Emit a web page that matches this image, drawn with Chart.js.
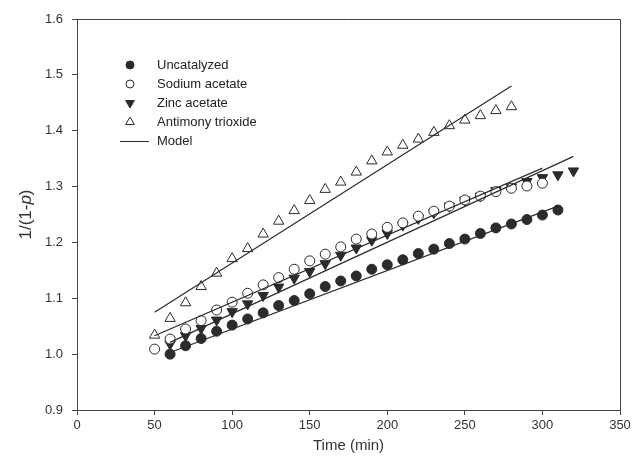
<!DOCTYPE html>
<html>
<head>
<meta charset="utf-8">
<script src="https://cdn.jsdelivr.net/npm/chart.js@4/dist/chart.umd.min.js"></script>
<style>
  body { margin: 0; background: #fff; }
</style>
</head>
<body>
<canvas id="chart" width="636" height="467"></canvas>
<script>
const uncatTime = [60, 70, 80, 90, 100, 110, 120, 130, 140, 150, 160, 170, 180, 190, 200, 210, 220, 230, 240, 250, 260, 270, 280, 290, 300, 310];
const uncatValues = [1.000, 1.015, 1.028, 1.041, 1.052, 1.063, 1.074, 1.087, 1.096, 1.108, 1.121, 1.131, 1.140, 1.152, 1.160, 1.169, 1.180, 1.188, 1.198, 1.206, 1.216, 1.226, 1.233, 1.241, 1.249, 1.258];

const sodiumTime = [50, 60, 70, 80, 90, 100, 110, 120, 130, 140, 150, 160, 170, 180, 190, 200, 210, 220, 230, 240, 250, 260, 270, 280, 290, 300];
const sodiumValues = [1.009, 1.027, 1.045, 1.060, 1.079, 1.093, 1.109, 1.124, 1.137, 1.152, 1.167, 1.179, 1.192, 1.206, 1.215, 1.227, 1.235, 1.247, 1.256, 1.265, 1.276, 1.283, 1.291, 1.297, 1.301, 1.306];

const zincTime = [60, 70, 80, 90, 100, 110, 120, 130, 140, 150, 160, 170, 180, 190, 200, 210, 220, 230, 240, 250, 260, 270, 280, 290, 300, 310, 320];
const zincValues = [1.018, 1.033, 1.046, 1.061, 1.076, 1.090, 1.105, 1.120, 1.136, 1.148, 1.162, 1.177, 1.190, 1.204, 1.216, 1.231, 1.243, 1.253, 1.265, 1.276, 1.283, 1.293, 1.299, 1.309, 1.316, 1.321, 1.328];

const antimonyTime = [50, 60, 70, 80, 90, 100, 110, 120, 130, 140, 150, 160, 170, 180, 190, 200, 210, 220, 230, 240, 250, 260, 270, 280];
const antimonyValues = [1.034, 1.064, 1.092, 1.121, 1.145, 1.171, 1.189, 1.215, 1.238, 1.257, 1.275, 1.295, 1.308, 1.326, 1.346, 1.362, 1.374, 1.385, 1.397, 1.409, 1.419, 1.427, 1.436, 1.443];

// model fits (straight lines, start and end)
const uncatModelTime = [60, 310];
const uncatModel = [1.003, 1.265];
const sodiumModelTime = [50, 300];
const sodiumModel = [1.033, 1.333];
const zincModelTime = [60, 320];
const zincModel = [1.021, 1.354];
const antimonyModelTime = [50, 280];
const antimonyModel = [1.075, 1.480];

const xTicks = [0, 50, 100, 150, 200, 250, 300, 350];
const yTicks = [0.9, 1.0, 1.1, 1.2, 1.3, 1.4, 1.5, 1.6];

const legendLabels = ['Uncatalyzed', 'Sodium acetate', 'Zinc acetate', 'Antimony trioxide', 'Model'];

const ink = '#2b2b2b';
const axisColor = '#444';
const textColor = '#333';
const fontFamily = '"Liberation Sans", Arial, sans-serif';

const toPoints = (xs, ys) => xs.map((x, i) => ({ x: x, y: ys[i] }));

const markerSet = (label, xs, ys, style, fill, rotation, radius) => ({
    type: 'scatter',
    label: label,
    data: toPoints(xs, ys),
    pointStyle: style,
    pointRadius: radius,
    pointHoverRadius: radius,
    pointRotation: rotation,
    pointBackgroundColor: fill,
    pointBorderColor: ink,
    pointBorderWidth: 1,
    showLine: false
});

const modelSet = (xs, ys) => ({
    type: 'line',
    label: 'Model',
    data: toPoints(xs, ys),
    borderColor: ink,
    borderWidth: 1.2,
    pointRadius: 0,
    fill: false,
    tension: 0
});

// frame on top/right, rotated y title with italic p, inset legend
const decorations = {
    id: 'decorations',
    afterDraw(chart) {
        const ctx = chart.ctx;
        const a = chart.chartArea;
        ctx.save();
        ctx.strokeStyle = axisColor;
        ctx.lineWidth = 1;
        ctx.beginPath();
        ctx.moveTo(a.left, a.top + 0.5);
        ctx.lineTo(a.right + 0.5, a.top + 0.5);
        ctx.lineTo(a.right + 0.5, a.bottom);
        ctx.stroke();

        // y axis title: 1/(1-p)
        ctx.translate(26, (a.top + a.bottom) / 2);
        ctx.rotate(-Math.PI / 2);
        ctx.fillStyle = textColor;
        ctx.textBaseline = 'middle';
        const parts = [['1/(1-', ''], ['p', 'italic '], [')', '']];
        const size = '17px ';
        let w = 0;
        parts.forEach(p => { ctx.font = p[1] + size + fontFamily; w += ctx.measureText(p[0]).width; });
        let x = -w / 2;
        parts.forEach(p => {
            ctx.font = p[1] + size + fontFamily;
            ctx.fillText(p[0], x, 0);
            x += ctx.measureText(p[0]).width;
        });
        ctx.restore();

        // legend
        ctx.save();
        ctx.font = '13px ' + fontFamily;
        ctx.textBaseline = 'middle';
        const mx = 130, tx = 157;
        const rows = [65, 84, 103, 122, 141];
        ctx.strokeStyle = ink;
        ctx.lineWidth = 1;
        legendLabels.forEach((lab, i) => {
            const y = rows[i];
            ctx.beginPath();
            if (i === 0 || i === 1) {
                ctx.arc(mx, y, 4, 0, Math.PI * 2);
                ctx.fillStyle = i === 0 ? ink : '#fff';
                ctx.fill();
                ctx.stroke();
            } else if (i === 2 || i === 3) {
                const r = 5, d = i === 2 ? -1 : 1;
                for (let k = 0; k < 3; k++) {
                    const ang = k * 2 * Math.PI / 3;
                    const px = mx + Math.sin(ang) * r;
                    const py = y - d * Math.cos(ang) * r;
                    if (k === 0) ctx.moveTo(px, py); else ctx.lineTo(px, py);
                }
                ctx.closePath();
                ctx.fillStyle = i === 2 ? ink : '#fff';
                ctx.fill();
                ctx.stroke();
            } else {
                ctx.moveTo(120, y + 0.5);
                ctx.lineTo(149, y + 0.5);
                ctx.stroke();
            }
            ctx.fillStyle = '#222';
            ctx.fillText(lab, tx, y);
        });
        ctx.restore();
    }
};

new Chart(document.getElementById('chart').getContext('2d'), {
    data: {
        datasets: [
            modelSet(uncatModelTime, uncatModel),
            modelSet(sodiumModelTime, sodiumModel),
            modelSet(zincModelTime, zincModel),
            modelSet(antimonyModelTime, antimonyModel),
            markerSet('Uncatalyzed', uncatTime, uncatValues, 'circle', ink, 0, 5),
            markerSet('Sodium acetate', sodiumTime, sodiumValues, 'circle', '#fff', 0, 5),
            markerSet('Zinc acetate', zincTime, zincValues, 'triangle', ink, 180, 6),
            markerSet('Antimony trioxide', antimonyTime, antimonyValues, 'triangle', '#fff', 0, 6)
        ]
    },
    options: {
        responsive: false,
        devicePixelRatio: 1,
        animation: false,
        layout: { padding: { top: 19, right: 16, left: 0, bottom: 0 } },
        plugins: {
            legend: { display: false },
            tooltip: { enabled: false }
        },
        scales: {
            x: {
                type: 'linear',
                min: 0,
                max: 350,
                afterBuildTicks: s => { s.ticks = xTicks.map(v => ({ value: v })); },
                afterFit: s => { s.height = 57; },
                ticks: { color: textColor, font: { family: fontFamily, size: 13 }, padding: 3, maxRotation: 0 },
                grid: { drawOnChartArea: false, drawTicks: true, tickLength: 5, color: axisColor },
                border: { display: true, color: axisColor, width: 1 },
                title: { display: true, text: 'Time (min)', color: textColor, font: { family: fontFamily, size: 15 }, padding: { top: 4, bottom: 12 } }
            },
            y: {
                type: 'linear',
                min: 0.9,
                max: 1.6,
                afterBuildTicks: s => { s.ticks = yTicks.map(v => ({ value: v })); },
                afterFit: s => { s.width = 77; },
                ticks: { color: textColor, font: { family: fontFamily, size: 13 }, padding: 9, callback: v => v.toFixed(1) },
                grid: { drawOnChartArea: false, drawTicks: true, tickLength: 5, color: axisColor },
                border: { display: true, color: axisColor, width: 1 }
            }
        }
    },
    plugins: [decorations]
});
</script>
</body>
</html>
